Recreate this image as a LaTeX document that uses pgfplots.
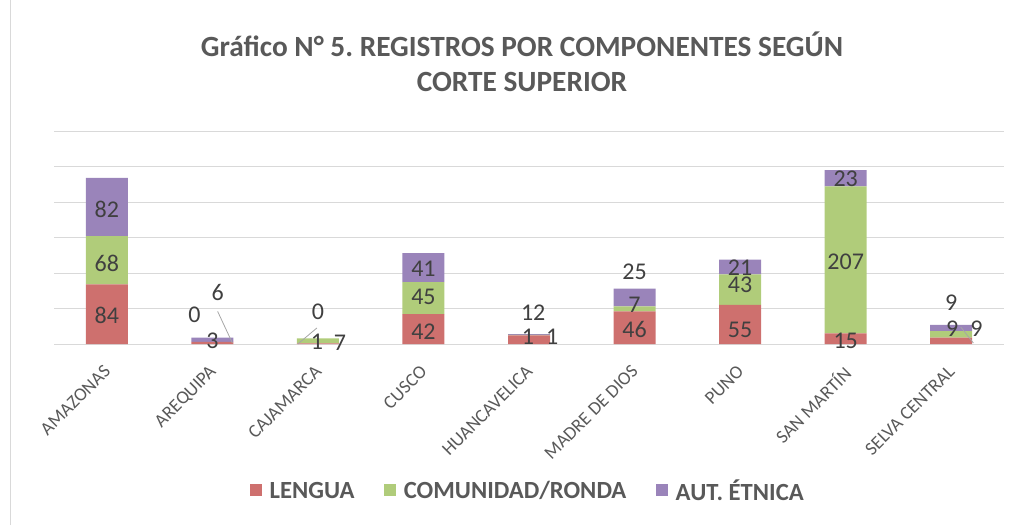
\documentclass[border=0pt]{standalone}
\usepackage{pgfplots}
\pgfplotsset{compat=1.18}
\usepackage{pgfplotstable}
\usepackage{fontspec}
\setmainfont{Carlito}
\frenchspacing
\definecolor{cL}{RGB}{206,112,110}
\definecolor{cC}{RGB}{176,204,122}
\definecolor{cA}{RGB}{154,132,186}
\definecolor{gridc}{RGB}{217,217,217}
\definecolor{txt}{RGB}{89,89,89}
\definecolor{lab}{RGB}{64,64,64}

\pgfplotstableread{
x L C A
0 84 68 82
1 3 0 6
2 1 7 0
3 42 45 41
4 12 1 1
5 46 7 25
6 55 43 21
7 15 207 23
8 9 9 9
}\data

\pgfplotstableread{
x y t
0 40 84
0 114 68
0 190 82
1 4 3
0.83 41 0
1.05 72 6
1.99 3 1
2.21 1.5 7
2.0 46 0
3 18 42
3 66 45
3 106 41
3.99 10 1
4.22 10 1
4.04 44 12
5 20 46
5 55 7
5 101 25
6 20 55
6 83 43
6 107 21
7 4 15
7 115.5 207
7 232 23
8.01 21 9
8.24 21 9
8 58 9
}\labels

\begin{document}
\begin{tikzpicture}
\path[use as bounding box] (0pt,0pt) rectangle (768pt,393.75pt);
\draw[gridc, line width=0.75pt] (7.5pt,0pt) -- (7.5pt,393.75pt);
\node[font=\bfseries\fontsize{22}{26.5}\selectfont, text=txt, align=center] at (391.5pt,347.25pt) {Gráfico N° 5. REGISTROS POR COMPONENTES SEGÚN\\CORTE SUPERIOR};
\begin{axis}[
  at={(40.5pt,135.75pt)}, anchor=south west,
  scale only axis, width=712.5pt, height=159.75pt,
  ybar stacked, bar width=31.5pt,
  xmin=-0.5, xmax=8.5, ymin=0, ymax=300,
  ytick={0,50,...,300}, yticklabels={},
  ymajorgrids, grid style={gridc, line width=0.75pt},
  axis line style={draw=none},
  major tick length=0pt,
  xtick=data,
  xticklabels={AMAZONAS,AREQUIPA,CAJAMARCA,CUSCO,HUANCAVELICA,MADRE DE DIOS,PUNO,SAN MARTÍN,SELVA CENTRAL},
  xticklabel style={rotate=45, anchor=north east, font=\fontsize{14}{16}\selectfont, text=txt, inner sep=1pt, yshift=-7.4pt, xshift=-11.7pt},
  legend style={at={(0.499,-0.69)}, anchor=center, draw=none, fill=none,
    font=\bfseries\fontsize{18.5}{21}\selectfont, text=txt,
    /tikz/every even column/.append style={column sep=20pt},
    /tikz/every odd column/.append style={column sep=4pt}},
  legend columns=3,
  legend image code/.code={\fill[#1] (0pt,-3.6pt) rectangle (9pt,5.4pt);},
]
\addplot[fill=cL, draw=none] table[x=x,y=L] {\data};
\addplot[fill=cC, draw=none] table[x=x,y=C] {\data};
\addplot[fill=cA, draw=none] table[x=x,y=A] {\data};
\legend{LENGUA, COMUNIDAD/RONDA, AUT. ÉTNICA}
\end{axis}
\begin{axis}[
  at={(40.5pt,135.75pt)}, anchor=south west,
  scale only axis, width=712.5pt, height=159.75pt,
  xmin=-0.5, xmax=8.5, ymin=0, ymax=300,
  hide axis, clip=false,
]
\addplot[gray!70, line width=0.6pt] coordinates {(1.05,46) (1.19,1.4)};
\addplot[gray!70, line width=0.6pt] coordinates {(1.99,22.5) (1.81,0)};
\addplot[gray!70, line width=0.6pt] coordinates {(8.09,24) (8.21,1.4)};
\addplot[draw=none, mark=none, nodes near coords, point meta=explicit symbolic,
  every node near coord/.append style={anchor=center, font=\fontsize{18}{21}\selectfont, text=lab, inner sep=0pt}]
  table[x=x,y=y,meta=t] {\labels};
\end{axis}
\end{tikzpicture}
\end{document}
